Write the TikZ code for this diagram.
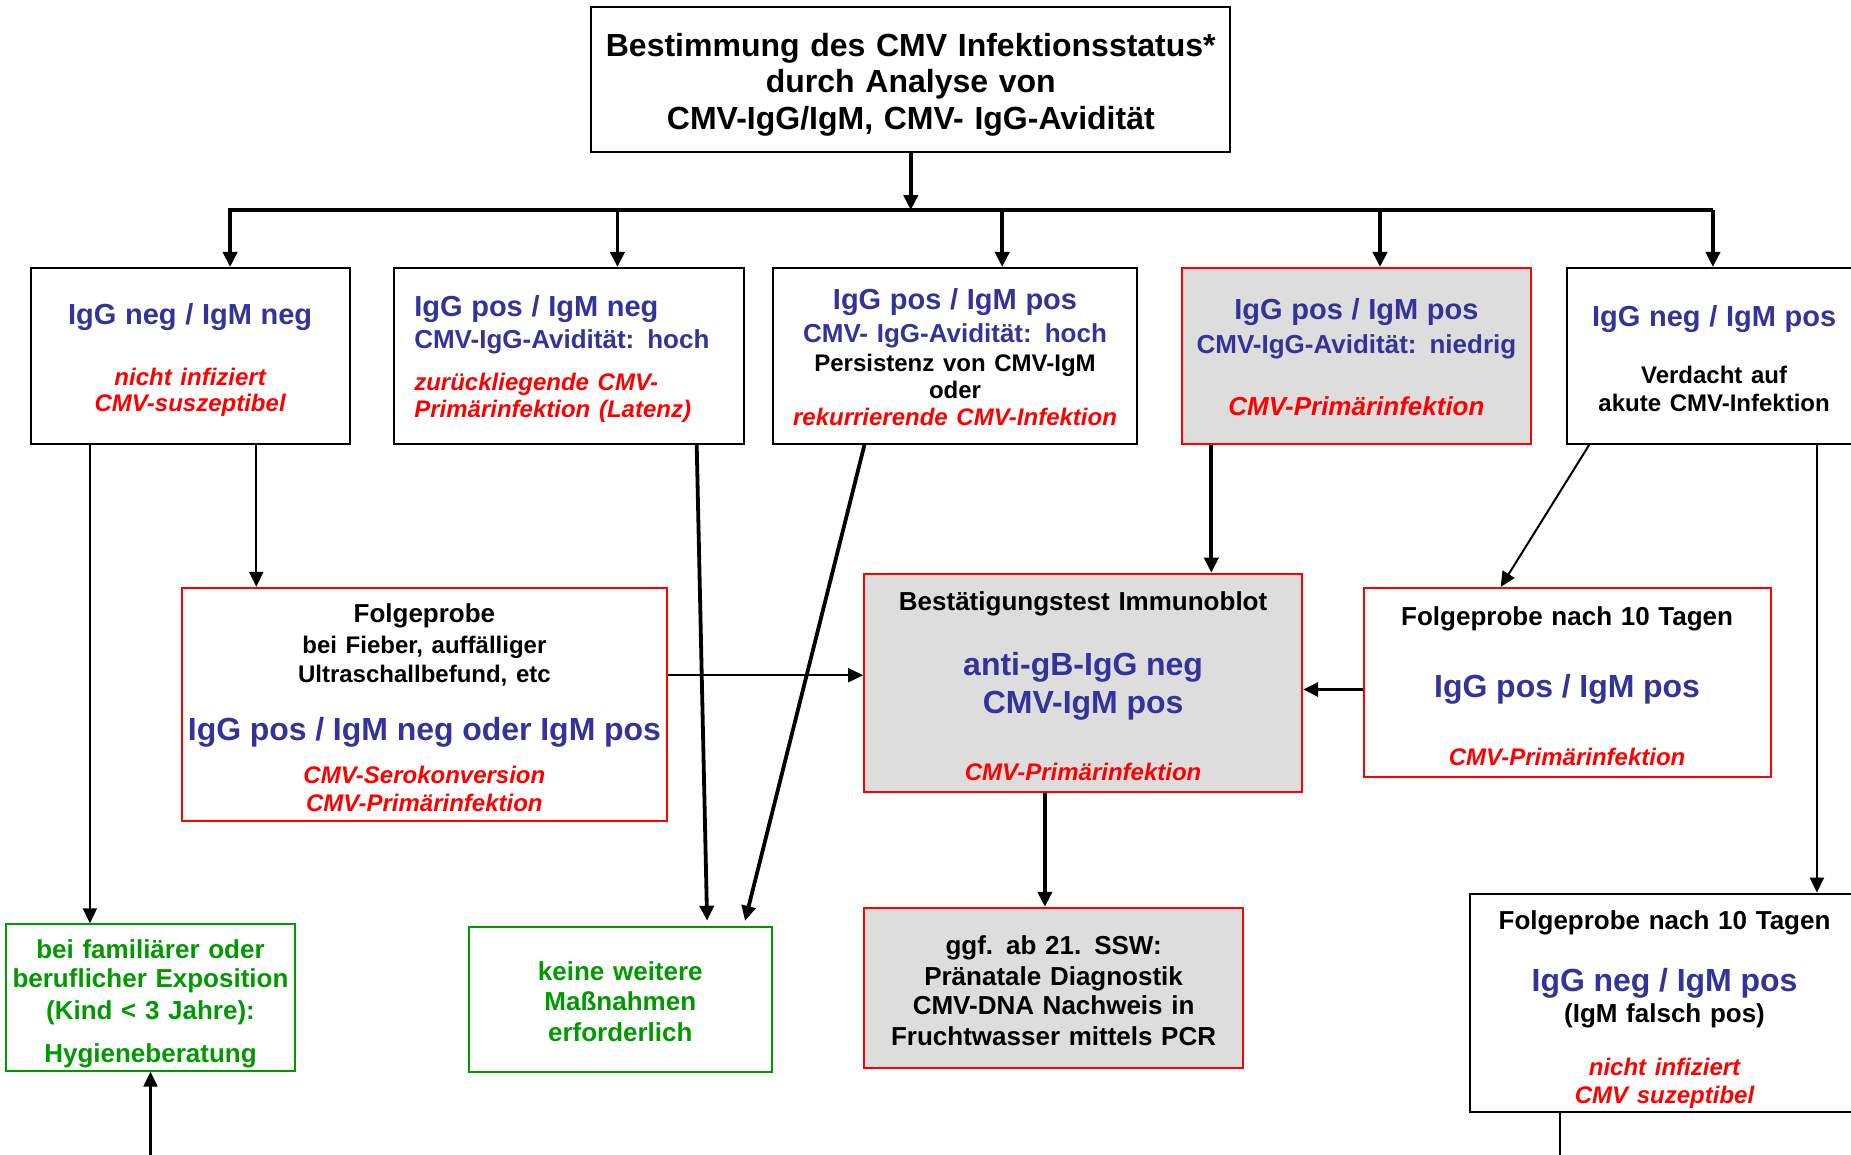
\documentclass[tikz,border=0pt]{standalone}
\usepackage{fontspec}
\setmainfont{Liberation Sans}
\usetikzlibrary{arrows.meta}

\definecolor{igblue}{RGB}{51,51,153}
\definecolor{infred}{RGB}{255,0,0}
\definecolor{okgreen}{RGB}{0,153,0}
\definecolor{labgrey}{RGB}{221,221,221}

% line gaps are set by hand with \\[..]
\newcommand{\tightlines}{\lineskiplimit=-100pt\lineskip=0pt\relax}
% #1: top edge to first baseline, #2: last baseline to bottom edge
\newcommand{\padlines}[3]{\mbox{}\\[#1]#3\\[#2]\mbox{}}

\newcommand{\igHead}[1]{{\leavevmode\fontsize{14.5}{0}\selectfont\color{igblue}#1}}
\newcommand{\igSub}[1]{{\leavevmode\fontsize{13}{0}\selectfont\color{igblue}#1}}
\newcommand{\igBig}[1]{{\leavevmode\fontsize{16}{0}\selectfont\color{igblue}#1}}
\newcommand{\infText}[1]{{\leavevmode\fontsize{12}{0}\selectfont\itshape\color{infred}#1}}
\newcommand{\infMid}[1]{{\leavevmode\fontsize{13}{0}\selectfont\itshape\color{infred}#1}}
\newcommand{\txtSmall}[1]{{\leavevmode\fontsize{12}{0}\selectfont#1}}

\begin{document}
\begin{tikzpicture}[
      x=0.5pt, y=-0.5pt,
      box/.style={
          rectangle, draw, line width=1pt,
          align=center,
          inner xsep=0pt, inner ysep=0pt,
          font=\tightlines\fontsize{13}{0}\selectfont\bfseries
        },
      boxsize/.style 2 args={text width=#1, minimum height=#2},
      redbox/.style={box, draw=infred},
      greybox/.style={box, draw=infred, fill=labgrey},
      greenbox/.style={box, draw=okgreen, text=okgreen},
      arr/.style={draw, line width=1pt, -{Triangle[length=7.5pt,width=7pt]}},
      heavy/.style={arr, line width=1.9pt},
      bar/.style={draw, line width=1.7pt}
    ]
    \useasboundingbox (0,0) rectangle (1851,1155);
    \clip (0,0) rectangle (1851,1155);

    % top
    \node[box, boxsize={319.4pt}{72.6pt}, font=\tightlines\fontsize{16}{0}\selectfont\bfseries] (status) at (910.8,79.7)
      {\padlines{24.5pt}{11.5pt}{Bestimmung des CMV Infektionsstatus*\\[18.3pt]durch Analyse von\\[18.3pt]CMV-IgG/IgM, CMV- IgG-Avidit\"at}};

    % first row
    \node[box, boxsize={159.4pt}{88pt}] (neg) at (190.1,356)
      {\padlines{28.2pt}{16.1pt}{\igHead{IgG neg / IgM neg}\\[30.7pt]\infText{nicht infiziert}\\[13pt]\infText{CMV-suszeptibel}}};
    \node[box, boxsize={154.7pt}{88pt}, align=left, inner xsep=10pt] (hoch) at (569,356)
      {\padlines{24.5pt}{13.3pt}{\igHead{IgG pos / IgM neg}\\[15.9pt]\igSub{CMV-IgG-Avidit\"at: hoch}\\[20.7pt]\infText{zur\"uckliegende CMV-}\\[13.6pt]\infText{Prim\"arinfektion (Latenz)}}};
    \node[box, boxsize={181.8pt}{88pt}] (persist) at (955,356)
      {\padlines{20.8pt}{9.3pt}{\igHead{IgG pos / IgM pos}\\[16.5pt]\igSub{CMV- IgG-Avidit\"at: hoch}\\[14.2pt]\txtSmall{Persistenz von CMV-IgM}\\[13.6pt]\txtSmall{oder}\\[13.6pt]\infText{rekurrierende CMV-Infektion}}};
    \node[greybox, boxsize={174.7pt}{88pt}] (niedrig) at (1356.4,356)
      {\padlines{25.8pt}{14.4pt}{\igHead{IgG pos / IgM pos}\\[17.1pt]\igSub{CMV-IgG-Avidit\"at: niedrig}\\[30.7pt]\infMid{CMV-Prim\"arinfektion}}};
    \node[box, boxsize={147.6pt}{88pt}] (akut) at (1714.1,356)
      {\padlines{29.1pt}{16.4pt}{\igHead{IgG neg / IgM pos}\\[28.9pt]\txtSmall{Verdacht auf}\\[13.6pt]\txtSmall{akute CMV-Infektion}}};

    % second row
    \node[redbox, boxsize={242.6pt}{116.3pt}] (fieber) at (424.4,704.2)
      {\padlines{17.4pt}{4.5pt}{Folgeprobe\\[15.3pt]\txtSmall{bei Fieber, auff\"alliger}\\[14.8pt]\txtSmall{Ultraschallbefund, etc}\\[28.9pt]\igBig{IgG pos / IgM neg oder IgM pos}\\[21.2pt]\infText{CMV-Serokonversion}\\[14.2pt]\infText{CMV-Prim\"arinfektion}}};
    \node[greybox, boxsize={219pt}{109.2pt}] (blot) at (1083.1,682.9)
      {\padlines{18.3pt}{5.9pt}{Best\"atigungstest Immunoblot\\[32.5pt]\igBig{anti-gB-IgG neg}\\[18.9pt]\igBig{CMV-IgM pos}\\[33.6pt]\infText{CMV-Prim\"arinfektion}}};
    \node[redbox, boxsize={203.6pt}{94.4pt}] (tage) at (1567.1,682.3)
      {\padlines{18.8pt}{5.4pt}{Folgeprobe nach 10 Tagen\\[36pt]\igBig{IgG pos / IgM pos}\\[34.2pt]\infText{CMV-Prim\"arinfektion}}};

    % third row
    \node[greenbox, boxsize={144.6pt}{73.2pt}] (hygiene) at (150.5,997.5)
      {\padlines{17pt}{4.3pt}{bei famili\"arer oder\\[14.8pt]beruflicher Exposition\\[15.9pt](Kind < 3 Jahre):\\[21.2pt]Hygieneberatung}};
    \node[greenbox, boxsize={151.7pt}{72.6pt}] (keine) at (620.3,999.3)
      {\padlines{26.8pt}{15.2pt}{keine weitere\\[15.3pt]Ma\ss nahmen\\[15.3pt]erforderlich}};
    \node[greybox, boxsize={189.5pt}{80.3pt}] (ssw) at (1053.6,988.1)
      {\padlines{23.3pt}{11.6pt}{ggf. ab 21. SSW:\\[15.3pt]Pr\"anatale Diagnostik\\[14.8pt]CMV-DNA Nachweis in\\[15.3pt]Fruchtwasser mittels PCR}};
    \node[box, boxsize={194.8pt}{109.2pt}] (falsch) at (1664.5,1002.8)
      {\padlines{18pt}{4.5pt}{Folgeprobe nach 10 Tagen\\[31pt]\igBig{IgG neg / IgM pos}\\[15.5pt](IgM falsch pos)\\[26.6pt]\infText{nicht infiziert}\\[13.6pt]\infText{CMV suzeptibel}}};

    % fan out from the top box
    \coordinate (bar west) at (227.8,210.1);
    \coordinate (bar east) at (1712.9,210.1);
    \coordinate (page bottom) at (0,1160);
    \draw[bar] (bar west) -- (bar east);
    \draw[heavy] (status.south) -- (status.south |- bar west);
    \foreach \n/\s in {neg/20pt, hoch/24.2pt, persist/23.6pt, niedrig/11.8pt, akut/-0.6pt}
      \draw[heavy] ([xshift=\s]\n.north |- bar west) -- ([xshift=\s]\n.north);

    % follow-ups
    \draw[arr] ([xshift=30.1pt]neg.south west) -- ([xshift=30.1pt]neg.south west |- hygiene.north);
    \draw[arr] ([xshift=113.3pt]neg.south west) -- ([xshift=113.3pt]neg.south west |- fieber.north);
    \draw[heavy, shorten >=2.5pt] ([xshift=151.7pt]hoch.south west) -- ([xshift=119.8pt]keine.north west);
    \draw[heavy, shorten >=2.5pt] ([xshift=46.1pt]persist.south west) -- ([xshift=138.1pt]keine.north west);
    \draw[heavy] ([xshift=15.3pt]niedrig.south west) -- ([xshift=15.3pt]niedrig.south west |- blot.north);
    \draw[arr] ([xshift=11.8pt]akut.south west) -- ([xshift=69.1pt]tage.north west);
    \draw[arr, line width=1.2pt] ([xshift=125.7pt]akut.south west) -- ([xshift=125.7pt]akut.south west |- falsch.north);
    \draw[arr, line width=1.2pt] ([yshift=14.5pt]fieber.east) -- ([yshift=14.5pt]fieber.east -| blot.west);
    \draw[arr, line width=1.5pt] ([yshift=-3.6pt]tage.west) -- ([yshift=-3.6pt]tage.west -| blot.east);
    \draw[heavy] ([xshift=90.9pt]blot.south west) -- ([xshift=90.9pt]blot.south west |- ssw.north);
    \draw[arr, line width=1.2pt] (hygiene.south |- page bottom) -- (hygiene.south);
    \draw[line width=1pt] ([xshift=45.5pt]falsch.south west) -- ([xshift=45.5pt]falsch.south west |- page bottom);
  \end{tikzpicture}
\end{document}
